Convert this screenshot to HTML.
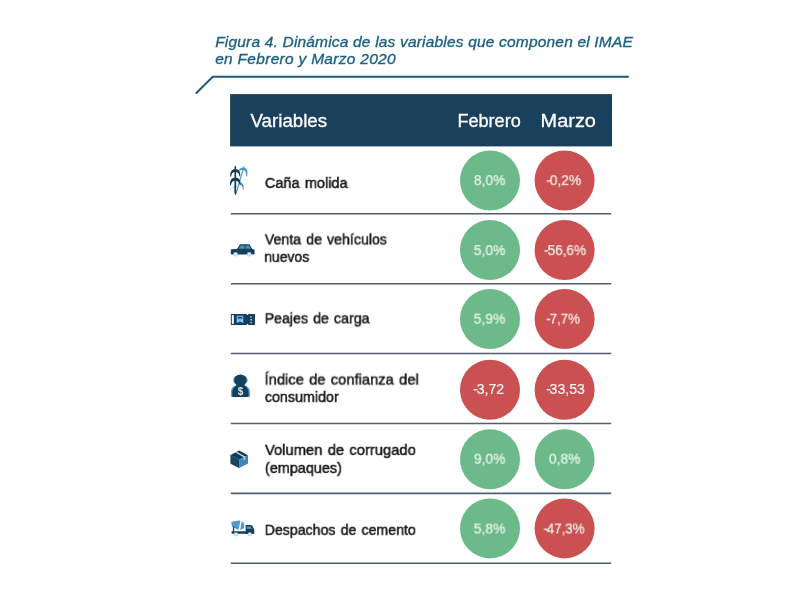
<!DOCTYPE html>
<html><head><meta charset="utf-8">
<style>
html,body{margin:0;padding:0;background:#fff;}
body{width:800px;height:600px;position:relative;overflow:hidden;font-family:"Liberation Sans",sans-serif;}
.abs{position:absolute;white-space:nowrap;}
.t{line-height:20px;left:0;top:0;transform-origin:0 0;will-change:transform;}
.title{font-style:italic;color:#1c6280;-webkit-text-stroke:0.35px #1c6280;}
.h{color:#fff;-webkit-text-stroke:0.3px #fff;}
.lbl{color:#161616;word-spacing:1.3px;-webkit-text-stroke:0.5px #161616;}
.ctx{color:#f1f7f3;-webkit-text-stroke:0.15px #f1f7f3;}
.hy{letter-spacing:-1.3px;}
</style></head><body>
<svg class="abs" style="left:0;top:0" width="800" height="600"><path d="M196.4 93 L212.8 76.8 L628 76.8" fill="none" stroke="#1f5977" stroke-width="2" stroke-linecap="round" stroke-linejoin="round"/></svg>
<svg class="abs" style="left:0;top:0" width="800" height="600"><rect x="230.1" y="94.1" width="381.9" height="52.3" fill="#1b405b"/></svg>
<svg class="abs" style="left:0;top:0" width="800" height="600"><g stroke="#506073" stroke-width="1.6"><path d="M230.8 213.80 H611.2"/><path d="M230.8 283.70 H611.2"/><path d="M230.8 353.55 H611.2"/><path d="M230.8 423.45 H611.2"/><path d="M230.8 493.40 H611.2"/><path d="M230.8 563.30 H611.2"/></g></svg>
<svg class="abs" style="left:0;top:0" width="800" height="600"><circle cx="490.00" cy="180.50" r="30.00" fill="#6cba8a"/><circle cx="564.60" cy="180.50" r="30.00" fill="#ca5051"/><circle cx="490.00" cy="250.00" r="30.00" fill="#6cba8a"/><circle cx="564.60" cy="250.00" r="30.00" fill="#ca5051"/><circle cx="490.00" cy="319.00" r="30.00" fill="#6cba8a"/><circle cx="564.60" cy="319.00" r="30.00" fill="#ca5051"/><circle cx="490.00" cy="389.70" r="30.00" fill="#ca5051"/><circle cx="564.60" cy="389.70" r="30.00" fill="#ca5051"/><circle cx="490.00" cy="459.30" r="30.00" fill="#6cba8a"/><circle cx="564.60" cy="459.30" r="30.00" fill="#6cba8a"/><circle cx="490.00" cy="528.40" r="30.00" fill="#6cba8a"/><circle cx="564.60" cy="528.40" r="30.00" fill="#ca5051"/></svg>
<div class="abs t title" id="t1" style="font-size:15.5px;letter-spacing:0.183px;transform:translate(215.21px,31.63px)">Figura 4. Dinámica de las variables que componen el IMAE</div>
<div class="abs t title" id="t2" style="font-size:15.5px;letter-spacing:0.290px;transform:translate(215.19px,49.03px)">en Febrero y Marzo 2020</div>
<div class="abs t h" id="h0" style="font-size:18px;transform:translate(250.49px,111.06px) scaleX(1.0400)">Variables</div>
<div class="abs t h" id="h1" style="font-size:18px;transform:translate(457.42px,111.06px) scaleX(1.0044)">Febrero</div>
<div class="abs t h" id="h2" style="font-size:18px;transform:translate(540.58px,111.06px) scaleX(1.1065)">Marzo</div>
<div class="abs t lbl" id="l1" style="font-size:15.5px;transform:translate(264.81px,172.93px) scaleX(0.9375)">Caña molida</div>
<div class="abs t lbl" id="l2a" style="font-size:15.5px;transform:translate(264.84px,229.43px) scaleX(0.9139)">Venta de vehículos</div>
<div class="abs t lbl" id="l2b" style="font-size:15.5px;transform:translate(264.22px,246.83px) scaleX(0.9011)">nuevos</div>
<div class="abs t lbl" id="l3" style="font-size:15.5px;transform:translate(264.65px,308.33px) scaleX(0.9149)">Peajes de carga</div>
<div class="abs t lbl" id="l4a" style="font-size:15.5px;transform:translate(264.59px,369.53px) scaleX(0.9489)">Índice de confianza del</div>
<div class="abs t lbl" id="l4b" style="font-size:15.5px;transform:translate(264.87px,386.93px) scaleX(0.9218)">consumidor</div>
<div class="abs t lbl" id="l5a" style="font-size:15.5px;transform:translate(265.00px,439.93px) scaleX(0.9509)">Volumen de corrugado</div>
<div class="abs t lbl" id="l5b" style="font-size:15.5px;transform:translate(264.89px,457.93px) scaleX(0.9308)">(empaques)</div>
<div class="abs t lbl" id="l6" style="font-size:15.5px;transform:translate(264.66px,519.83px) scaleX(0.9134)">Despachos de cemento</div>
<div class="abs t ctx" id="c1" style="font-size:14px;transform:translate(473.89px,170.15px) scaleX(0.9847)">8,0%</div>
<div class="abs t ctx" id="c2" style="font-size:14px;transform:translate(546.27px,170.15px) scaleX(0.9926)"><span class="hy">-</span>0,2%</div>
<div class="abs t ctx" id="c3" style="font-size:14px;transform:translate(473.68px,240.15px) scaleX(0.9913)">5,0%</div>
<div class="abs t ctx" id="c4" style="font-size:14px;transform:translate(544.09px,240.15px) scaleX(0.9781)"><span class="hy">-</span>56,6%</div>
<div class="abs t ctx" id="c5" style="font-size:14px;transform:translate(473.61px,308.65px) scaleX(0.9935)">5,9%</div>
<div class="abs t ctx" id="c6" style="font-size:14px;transform:translate(546.30px,308.65px) scaleX(0.9549)"><span class="hy">-</span>7,7%</div>
<div class="abs t ctx" id="c7" style="font-size:14px;transform:translate(473.28px,379.15px) scaleX(1.0112)"><span class="hy">-</span>3,72</div>
<div class="abs t ctx" id="c8" style="font-size:14px;transform:translate(546.23px,379.15px) scaleX(1.0026)"><span class="hy">-</span>33,53</div>
<div class="abs t ctx" id="c9" style="font-size:14px;transform:translate(473.88px,448.65px) scaleX(0.9847)">9,0%</div>
<div class="abs t ctx" id="c10" style="font-size:14px;transform:translate(548.90px,448.65px) scaleX(0.9839)">0,8%</div>
<div class="abs t ctx" id="c11" style="font-size:14px;transform:translate(473.69px,518.55px) scaleX(0.9912)">5,8%</div>
<div class="abs t ctx" id="c12" style="font-size:14px;transform:translate(543.39px,518.55px) scaleX(0.9575)"><span class="hy">-</span>47,3%</div>
<svg class="abs" style="left:0;top:0;will-change:transform" width="800" height="600" viewBox="0 0 800 600">
<!-- sugar cane -->
<g>
<path d="M235 195.2 L236.5 194 L244.5 166.6 L243.4 166.3Z" fill="#4a9bc8"/>
<path d="M238.6 171.4 C239 168 241.6 167.3 243.8 167.4 C247.6 168 248 172 247.1 176.6 L246.3 176.4 C246.2 172.6 245.4 170.6 243.4 170.2 C241.4 169.8 240 170.4 238.6 171.4Z" fill="#4a9bc8"/>
<path d="M239.6 181.9 C243.2 182.6 244.2 186 243.7 190 L243 189.8 C242.6 186.6 241.6 185.2 239.2 184.6Z" fill="#4a9bc8"/>
<path d="M236.6 185.4 Q233.2 185.4 232.2 188.8 Q234.4 187.2 236.4 187.4Z" fill="#4a9bc8" opacity="0.5"/>
<path d="M234.5 166.4 Q235.3 165.6 236.1 166.4 L236.2 192.6 L235.3 195.4 L234.4 192.6Z" fill="#173b55"/>
<path d="M230.3 176.6 C229.8 171.4 232 169.1 235.3 169 C238.6 169.1 240.8 171.4 240.2 176.4 L239.4 176.3 C239 173.4 237.6 172.2 235.3 172.1 C233 172.2 231.6 173.4 231.1 176.7Z" fill="#173b55"/>
<path d="M230.1 185.3 C229.6 180 232 177.7 235.3 177.6 C238.6 177.7 241 180 240.5 184.7 L239.7 184.6 C239.2 182 237.6 180.9 235.3 180.8 C233 180.9 231.4 182 230.9 185.4Z" fill="#173b55"/>
</g>
<!-- car -->
<g>
<path d="M231.6 249.2 L237 249 L240 244.3 L249.4 244.3 L252.2 249 L254 249.4 Q254.6 249.6 254.6 250.4 L254.6 253.6 Q254.6 254.4 253.8 254.4 L231.6 254.4 Q230.8 254.4 230.8 253.6 L230.8 250 Q230.8 249.2 231.6 249.2Z" fill="#173e5a"/>
<path d="M240.6 245.4 L244.6 245.4 L244.6 248.8 L238.6 248.8Z" fill="#4791bd"/>
<path d="M245.6 245.4 L248.8 245.4 L250.8 248.8 L245.6 248.8Z" fill="#4791bd"/>
<circle cx="235.6" cy="254.2" r="2.3" fill="#9fd4ee"/><circle cx="235.6" cy="254.2" r="1.2" fill="#e6f7fe"/>
<circle cx="249.2" cy="254.2" r="2.3" fill="#9fd4ee"/><circle cx="249.2" cy="254.2" r="1.2" fill="#e6f7fe"/>
</g>
<!-- toll ticket -->
<g>
<path d="M231.4 314 L246.6 314 A0.9 0.9 0 0 0 248.4 314 L254.4 314 Q255 314 255 314.6 L255 324.4 Q255 325 254.4 325 L248.4 325 A0.9 0.9 0 0 0 246.6 325 L231.4 325 Q230.8 325 230.8 324.4 L230.8 314.6 Q230.8 314 231.4 314Z" fill="#173e5a"/>
<rect x="231.8" y="315.2" width="2" height="8.7" fill="#fff"/>
<path d="M237.6 315.8 L242.4 315.8 Q243.3 315.8 243.3 316.7 L243.3 323 L241.8 323 L241.8 321.9 L238.2 321.9 L238.2 323 L236.7 323 L236.7 316.7 Q236.7 315.8 237.6 315.8Z" fill="#74b6dc"/>
<rect x="237.8" y="317" width="4.4" height="1.5" fill="#173e5a"/>
<rect x="237.6" y="319.8" width="1.2" height="1" fill="#cfeafa"/><rect x="241.2" y="319.8" width="1.2" height="1" fill="#cfeafa"/>
<rect x="250.2" y="316.2" width="1.8" height="1.5" fill="#8fb5cc"/><rect x="250.2" y="319" width="1.8" height="1.5" fill="#8fb5cc"/><rect x="250.2" y="321.8" width="1.8" height="1.5" fill="#8fb5cc"/>
</g>
<!-- person with $ -->
<g>
<ellipse cx="240.4" cy="380.3" rx="7.3" ry="5.6" fill="#5aa3cc"/>
<path d="M230.9 396.7 L230.9 392.4 C230.9 387.6 234 385.4 238 384.6 L242.8 384.6 C246.8 385.4 250 387.6 250 392.4 L250 396.7Z" fill="#5aa3cc"/>
<ellipse cx="240.4" cy="380.2" rx="6.2" ry="5.6" fill="#173e5a"/>
<path d="M232.3 396.9 L232.3 392.6 C232.3 388.2 235 385.8 238.5 384.8 L242.3 384.8 C245.8 385.8 248.5 388.2 248.5 392.6 L248.5 396.9Z" fill="#173e5a"/>
<text x="240.5" y="394.6" font-family="Liberation Sans, sans-serif" font-weight="bold" font-size="10" text-anchor="middle" fill="#cfeaf8">$</text>
</g>
<!-- box -->
<g>
<path d="M230.6 455 L239.2 450.6 L248 455.2 L239.2 459.4Z" fill="#163750"/>
<path d="M230.6 455 L239.2 459.4 L239.2 467.9 L230.6 463.6Z" fill="#1a4361" stroke="#1a4361" stroke-width="0.4"/>
<path d="M248 455.2 L239.2 459.4 L239.2 467.9 L248 463.6Z" fill="#3f87b6"/>
<path d="M235.4 452.5 L236.8 451.8 L245.2 456.5 L245.2 459.6 L243.6 460.4 L243.6 457.3Z" fill="#a9d9f1"/>
</g>
<!-- cement truck -->
<g>
<path d="M231.9 522.3 L239.4 521 L243 522.8 Q244 525.2 243.6 527.6 L240.2 529.3 L237.4 528.8 L232.4 526.3Z" fill="#4d9bc7" stroke="#4d9bc7" stroke-width="1.2" stroke-linejoin="round"/>
<path d="M240.5 520 L241.9 520.2 L240 530.2 L238.6 529.8Z" fill="#fff"/>
<rect x="232.9" y="526.6" width="1.3" height="5.2" fill="#173e5a"/>
<path d="M245.6 525 L250.8 525 Q251.8 525 252.4 526 L253.8 528.6 Q254.2 529.4 254.2 530.2 L254.2 533.7 L245.6 533.7Z" fill="#173e5a"/>
<rect x="231.5" y="531.3" width="22.6" height="2.4" rx="0.7" fill="#173e5a"/>
<path d="M246.7 526.5 L250.6 526.5 L251.8 528.7 L246.7 528.7Z" fill="#5c9dc0"/>
<circle cx="235.9" cy="534.3" r="2.1" fill="#a8d9f0"/><circle cx="235.9" cy="534.3" r="1.1" fill="#eaf8fe"/>
<circle cx="249.8" cy="534.3" r="2.1" fill="#a8d9f0"/><circle cx="249.8" cy="534.3" r="1.1" fill="#eaf8fe"/>
</g>
</svg>

</body></html>
